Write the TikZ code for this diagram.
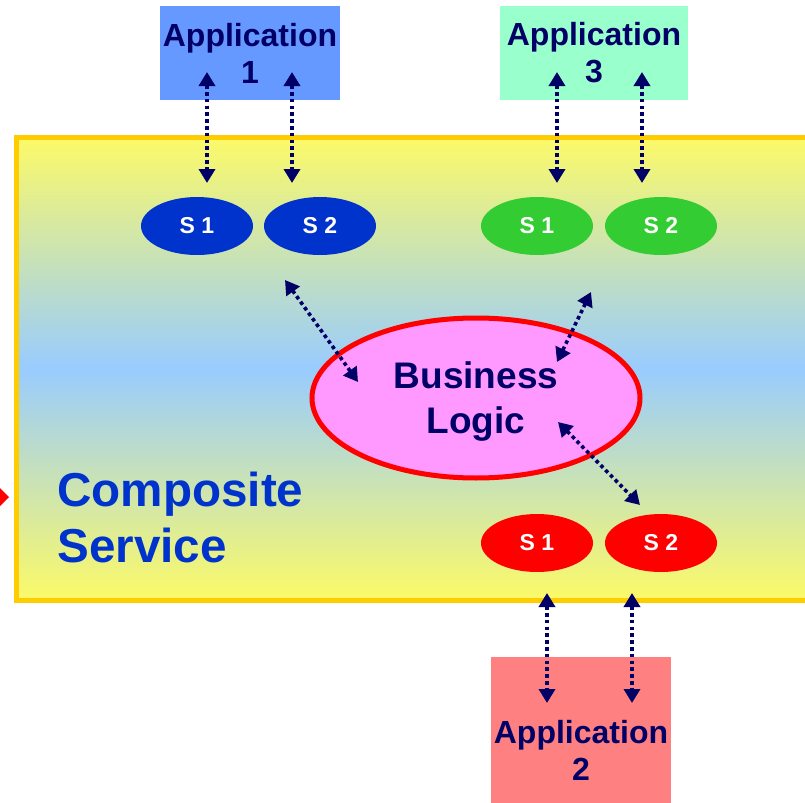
\documentclass[tikz,border=0pt]{standalone}
\usepackage{fontspec}
\setmainfont{Liberation Sans}
\usepackage{tikz}
\usetikzlibrary{shapes.geometric, arrows.meta}
\definecolor{navy}{HTML}{000066}
\definecolor{compblue}{HTML}{0033CC}
\definecolor{svcgreen}{HTML}{33CC33}
\definecolor{boxyellow}{HTML}{FCFA68}
\definecolor{boxblue}{HTML}{99CCFF}
\definecolor{boxedge}{HTML}{FFCC00}
\definecolor{appone}{HTML}{6699FF}
\definecolor{appthree}{HTML}{99FFCC}
\definecolor{apptwo}{HTML}{FF8080}
\definecolor{logicpink}{HTML}{FF99FF}

\begin{document}
\begin{tikzpicture}[x=0.5pt, y=-0.5pt,
    appbox/.style={rectangle, inner sep=0pt, minimum width=90pt, minimum height=47pt, align=center,
      text=navy, font=\bfseries\fontsize{16}{18.5}\selectfont},
    svc/.style={ellipse, inner sep=0pt, minimum width=56pt, minimum height=29pt, text=white,
      font=\bfseries\fontsize{11.5}{13}\selectfont},
    link/.style={navy, line width=1.8pt, dash pattern=on 1.8pt off 1.6pt,
      {Triangle[length=7pt,width=8pt]}-{Triangle[length=7pt,width=8pt]}}]
      \useasboundingbox (0,0) rectangle (805,803);
      \clip (0,0) rectangle (805,803);

      \shade[top color=boxyellow, bottom color=boxyellow, middle color=boxblue] (16,137) rectangle (830,600);
      \draw[boxedge, line width=2.5pt] (16,137) rectangle (830,600);
      \fill[red] (0,488) -- (9,497) -- (0,506) -- cycle;

      \node [appbox, fill=appone] (app1) at (250,53) {Application\\1};
      \node [appbox, fill=appthree, minimum width=94pt] (app3) at (594,53) {Application\\3};
      \node [appbox, fill=apptwo, minimum height=93pt] (app2) at (581,750) {Application\\2};

      \node [svc, fill=compblue] (s11) at (197,226) {S 1};
      \node [svc, fill=compblue] (s12) at (320,226) {S 2};
      \node [svc, fill=svcgreen] (s31) at (537,226) {S 1};
      \node [svc, fill=svcgreen] (s32) at (661,226) {S 2};
      \node [svc, fill=red] (s21) at (537,543) {S 1};
      \node [svc, fill=red] (s22) at (661,543) {S 2};

      \node [ellipse, draw=red, line width=2.5pt, fill=logicpink, inner sep=0pt, minimum width=164pt,
        minimum height=80pt, align=center, text=navy, font=\bfseries\fontsize{18.5}{22.5}\selectfont]
        (logic) at (476,398) {\rule{0pt}{17pt}Business\\Logic};

      \node [anchor=west, inner sep=0pt, align=left, text=compblue,
        font=\bfseries\fontsize{23.8}{28}\selectfont] (comp) at (57,517) {Composite\\Service};

      \draw[link] ([shift={(-43,19)}]app1.center) -- ([shift={(10,-43)}]s11.center);
      \draw[link] ([shift={(42,19)}]app1.center) -- ([shift={(-28,-43)}]s12.center);
      \draw[link] ([shift={(-37,19)}]app3.center) -- ([shift={(20,-43)}]s31.center);
      \draw[link] ([shift={(48,19)}]app3.center) -- ([shift={(-19,-43)}]s32.center);
      \draw[link] ([shift={(10,50)}]s21.center) -- ([shift={(-34,-47)}]app2.center);
      \draw[link] ([shift={(-29,50)}]s22.center) -- ([shift={(51,-47)}]app2.center);

      \draw[link] ([shift={(-35,54)}]s12.center) -- ([shift={(-118,-16)}]logic.center);
      \draw[link] ([shift={(54,66)}]s31.center) -- ([shift={(81,-36)}]logic.center);
      \draw[link] ([shift={(82,24)}]logic.center) -- ([shift={(-21,-38)}]s22.center);
    \end{tikzpicture}
\end{document}
